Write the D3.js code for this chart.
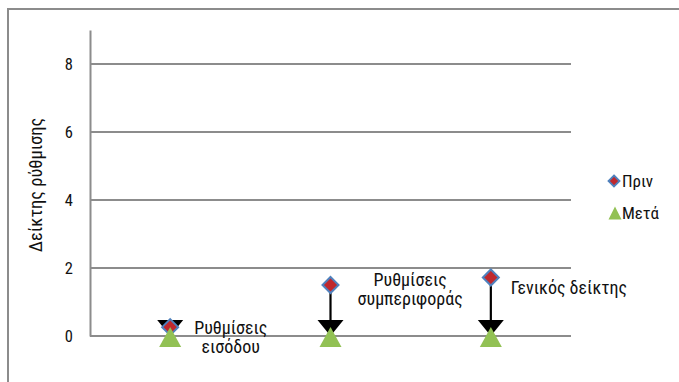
<!DOCTYPE html>
<html><head><meta charset="utf-8">
<script src="https://cdn.jsdelivr.net/npm/d3@7"></script>
<style>body{margin:0;background:#fff}svg{display:block}text{font-family:"Liberation Sans Narrow","Arial Narrow","Roboto Condensed","Liberation Sans",sans-serif;fill:#111}</style>
</head><body><svg id="c" width="679" height="382"></svg>
<script>
const categories = ["Ρυθμίσεις εισόδου", "Ρυθμίσεις συμπεριφοράς", "Γενικός δείκτης"];
const labelLines = [["Ρυθμίσεις", "εισόδου"], ["Ρυθμίσεις", "συμπεριφοράς"], ["Γενικός δείκτης"]];
const before = [0.26, 1.5, 1.72];
const after = [0, 0, 0];
const yTicks = [0, 2, 4, 6, 8];
const seriesNames = ["Πριν", "Μετά"];
const yTitle = "Δείκτης ρύθμισης";

const labelOffsets = [[24, 10], [27, 4], [20, 10]];

const svg = d3.select("#c");
const m = {l: 90, r: 571, t: 30, b: 336};
const x = d3.scaleBand().domain(categories).range([m.l, m.r]);
const y = d3.scaleLinear().domain([0, 9]).range([m.b, m.t]);

svg.append("rect").attr("x", 8).attr("y", 9).attr("width", 700).attr("height", 400)
  .attr("fill", "none").attr("stroke", "#8c8c8c").attr("stroke-width", 2);

svg.append("g").selectAll("line").data(yTicks).join("line")
  .attr("x1", m.l).attr("x2", m.r).attr("y1", d => y(d)).attr("y2", d => y(d))
  .attr("stroke", "#8c8c8c").attr("stroke-width", 2);

const yAxis = svg.append("g").attr("transform", `translate(${m.l},0)`)
  .call(d3.axisLeft(y).tickValues(yTicks).tickSize(0).tickPadding(17));
yAxis.select(".domain").attr("stroke", "#8c8c8c").attr("stroke-width", 2);
yAxis.selectAll("text").attr("font-size", 16.5).attr("font-family", null).attr("fill", "#111");

svg.append("text").attr("transform", `translate(42,185) rotate(-90)`)
  .attr("text-anchor", "middle").attr("font-size", 18.5).text(yTitle);

const cx = d => x(d) + x.bandwidth() / 2;

const arrows = svg.append("g");
categories.forEach((c, i) => {
  const x0 = cx(c), y0 = y(before[i]), y1 = y(after[i]);
  const ah = 16, aw = 13;
  if (y1 - y0 > ah) {
    arrows.append("line").attr("x1", x0).attr("x2", x0).attr("y1", y0).attr("y2", y1 - ah + 1)
      .attr("stroke", "#000").attr("stroke-width", 2.2);
  }
  arrows.append("path").attr("d", `M${x0 - aw},${y1 - ah}L${x0 + aw},${y1 - ah}L${x0},${y1}Z`).attr("fill", "#000");
});

const diamond = (s) => `M0,${-s}L${s},0L0,${s}L${-s},0Z`;
const tri = (w, h) => `M0,${-h / 2}L${w / 2},${h / 2}L${-w / 2},${h / 2}Z`;

svg.append("g").selectAll("path").data(before).join("path")
  .attr("transform", (d, i) => `translate(${cx(categories[i])},${y(d)})`)
  .attr("d", diamond(8)).attr("fill", "#c0282d").attr("stroke", "#4f81bd").attr("stroke-width", 2);

svg.append("g").selectAll("path").data(after).join("path")
  .attr("transform", (d, i) => `translate(${cx(categories[i])},${y(d) + 1})`)
  .attr("d", tri(22, 20)).attr("fill", "#92c154");

categories.forEach((c, i) => {
  const lines = labelLines[i];
  const t = svg.append("text").attr("font-size", 18).attr("text-anchor", "middle");
  const lx = cx(c) + labelOffsets[i][0];
  const yc = y(before[i]) + labelOffsets[i][1];
  const lh = 19.5;
  lines.forEach((l, k) => {
    t.append("tspan").attr("x", lx).attr("y", yc + (k - (lines.length - 1) / 2) * lh)
      .attr("dy", "0.35em").text(l);
  });
  const bb = t.node().getBBox();
  t.attr("transform", `translate(${lx - bb.x},0)`);
});

const lg = svg.append("g");
lg.append("path").attr("transform", "translate(614,181)").attr("d", diamond(5.5))
  .attr("fill", "#c0282d").attr("stroke", "#4f81bd").attr("stroke-width", 1.8);
lg.append("path").attr("transform", "translate(615,213)").attr("d", tri(13, 13)).attr("fill", "#92c154");
lg.append("text").attr("x", 622).attr("y", 181).attr("dy", "0.35em").attr("font-size", 17).text(seriesNames[0]);
lg.append("text").attr("x", 622).attr("y", 213).attr("dy", "0.35em").attr("font-size", 17).text(seriesNames[1]);
</script></body></html>
